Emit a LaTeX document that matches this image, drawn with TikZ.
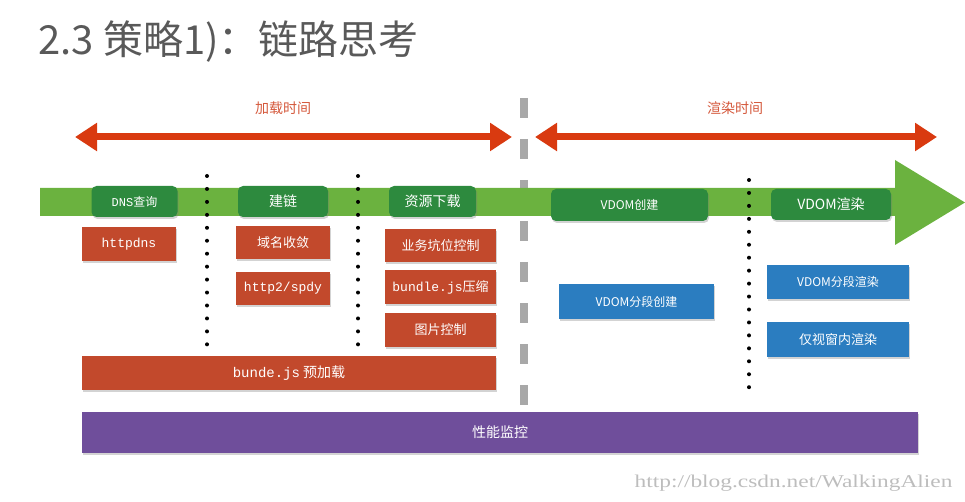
\documentclass[tikz,border=0pt]{standalone}
\usepackage{fontspec}
\setmainfont{Noto Sans CJK SC}
\newfontfamily\monofont{Liberation Mono}
\newfontfamily\markfont{Liberation Serif}
\usetikzlibrary{arrows.meta, shadows}
\definecolor{Title}{HTML}{595959}
\definecolor{ArrowRed}{HTML}{D93A10}
\definecolor{LabelRed}{HTML}{D4573A}
\definecolor{LGreen}{HTML}{6BB23F}
\definecolor{DGreen}{HTML}{2D8A3E}
\definecolor{BoxRed}{HTML}{C2492C}
\definecolor{BoxBlue}{HTML}{2B7DC0}
\definecolor{Purple}{HTML}{6F4E9B}
\definecolor{Split}{HTML}{A8A8A8}
\definecolor{Mark}{HTML}{BDBDBD}

\begin{document}
\begin{tikzpicture}[x=1pt, y=-1pt,
    box/.style={rectangle, inner sep=0pt, text=white, font=\fontsize{13}{15}\selectfont,
        drop shadow={shadow xshift=1pt, shadow yshift=-2pt, opacity=0.35}},
    stage/.style={box, fill=DGreen, rounded corners=5pt, minimum height=31pt},
    loadbox/.style={box, fill=BoxRed, minimum width=#1, minimum height=34pt},
    renderbox/.style={box, fill=BoxBlue, minimum width=#1, minimum height=35pt},
    span/.style={ArrowRed, line width=7pt,
        {Triangle[length=22pt, width=27pt]}-{Triangle[length=22pt, width=27pt]}},
    spanlabel/.style={text=LabelRed, font=\fontsize{14}{16}\selectfont},
    dots/.style={line width=4pt, line cap=round, dash pattern=on 0pt off 12.95pt}]
\useasboundingbox (0,0) rectangle (965,502);

\node[anchor=west, text=Title, font=\fontsize{40}{42}\selectfont] (title) at (35,42) {2.3 策略1)：链路思考};

% time spans
\coordinate (load-l) at (75,137);
\coordinate (load-r) at (512,137);
\coordinate (render-l) at (535,137);
\coordinate (render-r) at (937,137);
\draw[span] (load-l) -- (load-r);
\draw[span] (render-l) -- (render-r);
\node[spanlabel] (load-label) at (283,108) {加载时间};
\node[spanlabel] (render-label) at (735,108) {渲染时间};

\coordinate (split-top) at (524,98);
\coordinate (split-bot) at (524,406);
\draw[Split, line width=8pt, dash pattern=on 20pt off 21pt] (split-top) -- (split-bot);

% timeline
\fill[LGreen] (40,188) -- (895,188) -- (895,160) -- (965,202.5) -- (895,245) -- (895,216) -- (40,216) -- cycle;

\node[stage, minimum width=86pt, font=\fontsize{12}{14}\selectfont] (dns) at (134.5,201.5) {{\monofont DNS}查询};
\node[stage, minimum width=90pt, font=\fontsize{14}{16}\selectfont] (connect) at (283,201.5) {建链};
\node[stage, minimum width=87pt, font=\fontsize{14}{16}\selectfont] (download) at (432.5,201.5) {资源下载};
\node[stage, minimum width=157pt, minimum height=32pt, font=\fontsize{12}{14}\selectfont] (vdom-create) at (629.5,205) {VDOM创建};
\node[stage, minimum width=120pt, font=\fontsize{14}{16}\selectfont] (vdom-render) at (831,204.5) {VDOM渲染};

\coordinate (d1-top) at (207,176);
\coordinate (d1-bot) at (207,345);
\coordinate (d2-top) at (358,176);
\coordinate (d2-bot) at (358,345);
\coordinate (d3-top) at (749,180);
\coordinate (d3-bot) at (749,388);
\draw[dots] (d1-top) -- (d1-bot);
\draw[dots] (d2-top) -- (d2-bot);
\draw[dots] (d3-top) -- (d3-bot);

% loading
\node[loadbox=94pt] (httpdns) at (129,244) {\monofont httpdns};
\node[loadbox=94pt, minimum height=33pt] (domain) at (283,242.5) {域名收敛};
\node[loadbox=94pt, minimum height=33pt] (http2) at (283,288.5) {\monofont http2/spdy};
\node[loadbox=111pt, minimum height=33pt] (slots) at (440.5,245.5) {业务坑位控制};
\node[loadbox=111pt] (compress) at (440.5,287) {{\monofont bundle.js}压缩};
\node[loadbox=111pt] (images) at (440.5,330) {图片控制};
\node[loadbox=414pt, font=\fontsize{14}{16}\selectfont] (preload) at (289,373) {{\monofont bunde.js} 预加载};

% rendering
\node[renderbox=155pt, font=\fontsize{12}{14}\selectfont] (vdom-split) at (636.5,301.5) {VDOM分段创建};
\node[renderbox=142pt, minimum height=34pt, font=\fontsize{12}{14}\selectfont] (vdom-split-render) at (838,282) {VDOM分段渲染};
\node[renderbox=142pt] (viewport) at (838,339.5) {仅视窗内渲染};

\node[box, fill=Purple, minimum width=836pt, minimum height=41pt, font=\fontsize{14}{16}\selectfont] (monitor) at (500,432.5) {性能监控};

\node[anchor=east, text=Mark, font=\markfont\fontsize{18}{20}\selectfont] (mark) at (956,483) {\scalebox{1.3}[1]{http://blog.csdn.net/WalkingAlien}};
\end{tikzpicture}
\end{document}
